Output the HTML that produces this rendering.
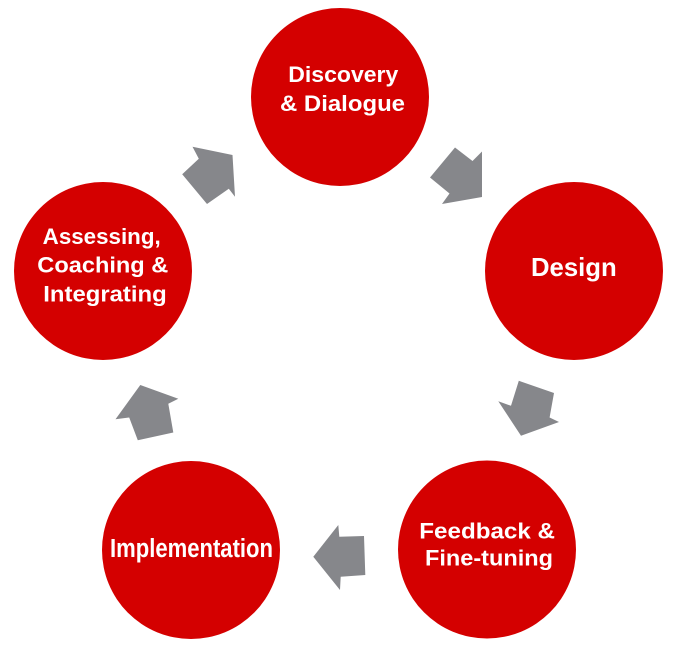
<!DOCTYPE html>
<html>
<head>
<meta charset="utf-8">
<style>
  html, body { margin: 0; padding: 0; background: #ffffff; }
  body { width: 677px; height: 648px; overflow: hidden; }
  svg { display: block; }
  text { font-family: "Liberation Sans", Arial, sans-serif; font-weight: bold; fill: #ffffff; }
</style>
</head>
<body>
<svg width="677" height="648" viewBox="0 0 677 648" xmlns="http://www.w3.org/2000/svg">
  <!-- circles -->
  <circle cx="340" cy="97" r="89" fill="#d40000"/>
  <circle cx="574" cy="271" r="89" fill="#d40000"/>
  <circle cx="487" cy="549.5" r="89" fill="#d40000"/>
  <circle cx="191" cy="550" r="89" fill="#d40000"/>
  <circle cx="103" cy="271" r="89" fill="#d40000"/>

  <!-- arrows -->
  <g fill="#86878b">
    <!-- Assessing -> Discovery (up-right) -->
    <polygon points="192.5,146.7 232.5,155 235,196.7 228.8,188.8 207,204 182.2,174.2 198.8,158.8"/>
    <!-- Discovery -> Design (down-right) -->
    <polygon points="455,147.5 472.5,161 482,151.5 482,197 442,204 449.5,193.5 430,177.5"/>
    <!-- Design -> Feedback (down-left) -->
    <polygon points="518.8,380.8 554,393 549.6,417.5 559,422 521,435.8 498.3,401.2 511,405.8"/>
    <!-- Feedback -> Implementation (left) -->
    <polygon points="338.3,525 339.3,536.7 364,536 365.3,575 340.7,576.7 340,590 313.3,556.7"/>
    <!-- Implementation -> Assessing (up) -->
    <polygon points="140.3,385 178.3,398.8 168.3,403.7 173.3,432.5 137.8,440.3 129.2,417.5 115.5,419.3"/>
  </g>

  <!-- labels -->
  <text x="288.3" y="82" font-size="22.5" textLength="110" lengthAdjust="spacingAndGlyphs">Discovery</text>
  <text x="280" y="111" font-size="22.5" textLength="125" lengthAdjust="spacingAndGlyphs">&amp; Dialogue</text>

  <text x="531" y="276" font-size="26" textLength="85.7" lengthAdjust="spacingAndGlyphs">Design</text>

  <text x="42.7" y="244" font-size="22" textLength="118" lengthAdjust="spacingAndGlyphs">Assessing,</text>
  <text x="37.3" y="272.7" font-size="22" textLength="131" lengthAdjust="spacingAndGlyphs">Coaching &amp;</text>
  <text x="43.3" y="301.5" font-size="22" textLength="123.4" lengthAdjust="spacingAndGlyphs">Integrating</text>

  <text x="110" y="557" font-size="25.5" textLength="163" lengthAdjust="spacingAndGlyphs">Implementation</text>

  <text x="419.3" y="538.5" font-size="22.5" textLength="135.7" lengthAdjust="spacingAndGlyphs">Feedback &amp;</text>
  <text x="425" y="565.5" font-size="22.5" textLength="128" lengthAdjust="spacingAndGlyphs">Fine-tuning</text>
</svg>
</body>
</html>
